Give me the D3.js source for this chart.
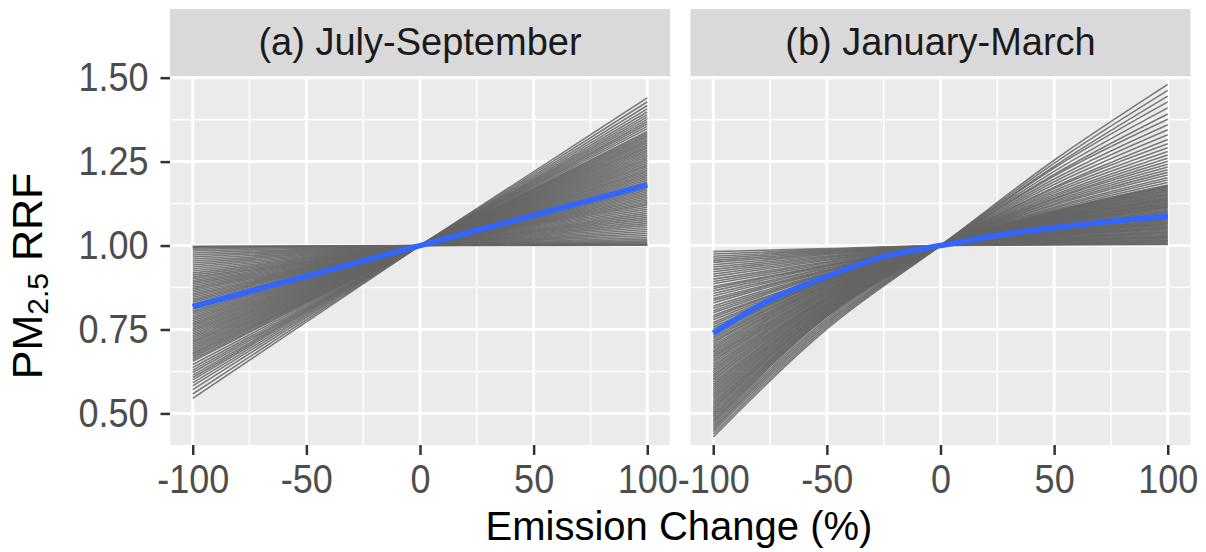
<!DOCTYPE html>
<html>
<head>
<meta charset="utf-8">
<script src="https://cdn.jsdelivr.net/npm/d3@7"></script>
<style>
  body { margin: 0; background: #fff; }
  text { font-family: "Liberation Sans", Arial, sans-serif; }
</style>
</head>
<body>
<svg id="chart" width="1206" height="552"></svg>
<script>
// facet titles and axis ticks
const facetTitles = ["(a) July-September", "(b) January-March"];
const xTicks = [-100, -50, 0, 50, 100];
const xMinor = [-75, -25, 25, 75];
const yTicks = [0.5, 0.75, 1.0, 1.25, 1.5];
const yMinor = [0.625, 0.875, 1.125, 1.375];

// (a) July-September: straight member lines, RRF at -100% and +100% (paired by index)
const julSepAtMinus100 = [
  0.545, 0.558, 0.571, 0.582, 0.591, 0.600, 0.607, 0.614, 0.622, 0.629, 0.637, 0.646,
  0.655, 0.660, 0.666, 0.671, 0.676, 0.681, 0.686, 0.691, 0.696, 0.701,
  0.706, 0.711, 0.716, 0.721, 0.726, 0.731, 0.736, 0.741, 0.746, 0.751,
  0.756, 0.761, 0.766, 0.771, 0.776, 0.781, 0.786, 0.791, 0.796, 0.801,
  0.806, 0.811, 0.816, 0.821, 0.826, 0.831, 0.836, 0.841, 0.846, 0.851,
  0.856, 0.861, 0.866, 0.871, 0.876, 0.881, 0.886, 0.891, 0.896, 0.901,
  0.906, 0.912, 0.918, 0.924, 0.930, 0.936, 0.942, 0.948, 0.954, 0.960,
  0.966, 0.972, 0.978, 0.984, 0.989, 0.993, 0.996, 0.998
];
const julSepAtPlus100 = [
  1.440, 1.428, 1.417, 1.407, 1.398, 1.390, 1.383, 1.376, 1.369, 1.362, 1.355, 1.348,
  1.340, 1.335, 1.330, 1.325, 1.320, 1.315, 1.310, 1.305, 1.300, 1.295,
  1.290, 1.285, 1.280, 1.275, 1.270, 1.265, 1.260, 1.255, 1.250, 1.245,
  1.240, 1.235, 1.230, 1.225, 1.220, 1.215, 1.210, 1.205, 1.200, 1.195,
  1.190, 1.185, 1.180, 1.175, 1.170, 1.165, 1.160, 1.155, 1.150, 1.145,
  1.140, 1.135, 1.130, 1.125, 1.120, 1.114, 1.108, 1.102, 1.096, 1.090,
  1.084, 1.078, 1.072, 1.066, 1.060, 1.054, 1.048, 1.042, 1.036, 1.030,
  1.024, 1.019, 1.014, 1.010, 1.007, 1.004, 1.002, 1.001
];
const julSepMeanX = [-100, -50, 0, 50, 100];
const julSepMean = [0.818, 0.909, 1.0, 1.090, 1.181];

// (b) January-March: curved member lines, RRF at -100, -50, +50, +100 (paired by index)
const janMarAtMinus100 = [
  0.430, 0.438, 0.446, 0.452, 0.458, 0.464,
  0.470, 0.476, 0.481, 0.487, 0.492, 0.498, 0.503, 0.509, 0.515, 0.520,
  0.526, 0.531, 0.537, 0.543, 0.548, 0.554, 0.559, 0.565, 0.571, 0.576,
  0.582, 0.587, 0.593, 0.599, 0.604, 0.610, 0.615, 0.621, 0.627, 0.632,
  0.638, 0.643, 0.649, 0.655, 0.660, 0.666, 0.671, 0.677, 0.683, 0.688,
  0.694, 0.699, 0.705, 0.711, 0.716, 0.722, 0.727, 0.733, 0.739, 0.744,
  0.752, 0.758, 0.765, 0.771, 0.779, 0.786, 0.792, 0.800, 0.806, 0.813,
  0.820, 0.829, 0.836, 0.842, 0.850, 0.857, 0.865, 0.872, 0.878, 0.886,
  0.893, 0.900, 0.908, 0.915, 0.922, 0.929, 0.936, 0.943, 0.950, 0.956,
  0.962, 0.968, 0.975, 0.982
];
const janMarAtMinus50 = [
  0.752, 0.758, 0.764, 0.770, 0.776, 0.782,
  0.788, 0.790, 0.792, 0.795, 0.797, 0.799, 0.801, 0.804, 0.806, 0.808,
  0.810, 0.812, 0.815, 0.817, 0.819, 0.822, 0.824, 0.826, 0.828, 0.830,
  0.833, 0.835, 0.837, 0.840, 0.842, 0.844, 0.846, 0.848, 0.851, 0.853,
  0.855, 0.857, 0.860, 0.862, 0.864, 0.866, 0.868, 0.871, 0.873, 0.875,
  0.878, 0.880, 0.882, 0.884, 0.886, 0.889, 0.891, 0.893, 0.896, 0.898,
  0.896, 0.898, 0.901, 0.902, 0.905, 0.908, 0.908, 0.912, 0.915, 0.916,
  0.919, 0.923, 0.925, 0.927, 0.931, 0.933, 0.937, 0.940, 0.941, 0.945,
  0.949, 0.952, 0.956, 0.959, 0.963, 0.966, 0.969, 0.973, 0.976, 0.979,
  0.982, 0.985, 0.988, 0.991
];
const janMarAtPlus50 = [
  1.254, 1.245, 1.236, 1.231, 1.221, 1.212, 1.207, 1.198, 1.190, 1.182,
  1.174, 1.170, 1.163, 1.157, 1.151, 1.146, 1.141, 1.138, 1.133, 1.129,
  1.124, 1.120, 1.115, 1.111, 1.107,
  1.103, 1.101, 1.100, 1.098, 1.096, 1.095, 1.093, 1.092, 1.090, 1.088,
  1.087, 1.085, 1.084, 1.082, 1.080, 1.079, 1.078, 1.076, 1.074, 1.072,
  1.071, 1.070, 1.068, 1.066, 1.065, 1.063, 1.062, 1.060, 1.058, 1.057,
  1.055, 1.054, 1.052, 1.051, 1.049, 1.047, 1.046, 1.044, 1.043, 1.041,
  1.039, 1.038, 1.036, 1.035, 1.033, 1.031, 1.030, 1.029, 1.027, 1.025,
  1.023, 1.022, 1.021, 1.019, 1.017, 1.015, 1.014, 1.013, 1.011, 1.009,
  1.008, 1.006, 1.005, 1.003, 1.002
];
const janMarAtPlus100 = [
  1.480, 1.462, 1.445, 1.428, 1.410, 1.392, 1.376, 1.360, 1.345, 1.330,
  1.316, 1.303, 1.291, 1.280, 1.270, 1.260, 1.251, 1.242, 1.234, 1.226,
  1.218, 1.210, 1.202, 1.195, 1.188,
  1.180, 1.177, 1.175, 1.172, 1.169, 1.166, 1.164, 1.161, 1.158, 1.155,
  1.152, 1.150, 1.147, 1.144, 1.141, 1.139, 1.136, 1.133, 1.130, 1.127,
  1.125, 1.122, 1.119, 1.116, 1.114, 1.111, 1.108, 1.105, 1.102, 1.100,
  1.097, 1.094, 1.091, 1.089, 1.086, 1.083, 1.080, 1.077, 1.075, 1.072,
  1.069, 1.066, 1.064, 1.061, 1.058, 1.055, 1.052, 1.050, 1.047, 1.044,
  1.041, 1.039, 1.036, 1.033, 1.030, 1.027, 1.025, 1.022, 1.019, 1.016,
  1.014, 1.011, 1.008, 1.005, 1.003
];
const janMarMeanX = [-100, -75, -50, -25, 0, 25, 50, 75, 100];
const janMarMean = [0.739, 0.838, 0.908, 0.967, 1.0, 1.030, 1.053, 1.072, 1.087];

// build member lines for each facet
const julSepLines = d3.range(Math.min(julSepAtMinus100.length, julSepAtPlus100.length))
  .map(i => [[-100, julSepAtMinus100[i]], [0, 1], [100, julSepAtPlus100[i]]]);
const janMarLines = d3.range(janMarAtMinus100.length)
  .map(i => [[-100, janMarAtMinus100[i]], [-50, janMarAtMinus50[i]], [0, 1],
             [50, janMarAtPlus50[i]], [100, janMarAtPlus100[i]]]);

const facets = [
  { title: facetTitles[0], left: 170, lines: julSepLines, mean: julSepMeanX.map((x, i) => [x, julSepMean[i]]) },
  { title: facetTitles[1], left: 690.5, lines: janMarLines, mean: janMarMeanX.map((x, i) => [x, janMarMean[i]]) }
];

let panelW = 500;
let panelTop = 76, panelBottom = 445;
let stripTop = 9;
let squeeze = 0.9; // tick labels in the original are a bit narrow

const svg = d3.select('#chart');

const y = d3.scaleLinear()
  .domain([0.406, 1.505])
  .range([panelBottom, panelTop]);

facets.forEach((f, k) => {
  const x = d3.scaleLinear().domain([-110, 110]).range([0, panelW]);
  const g = svg.append('g').attr('transform', 'translate(' + f.left + ',0)');

  // strip
  g.append('rect')
    .attr('x', 0).attr('y', stripTop)
    .attr('width', panelW).attr('height', panelTop - stripTop)
    .attr('fill', '#d9d9d9');
  g.append('text')
    .attr('x', panelW / 2).attr('y', 55)
    .attr('text-anchor', 'middle')
    .attr('font-size', '38px')
    .attr('fill', '#1a1a1a')
    .text(f.title);

  // panel background + grid
  g.append('rect')
    .attr('x', 0).attr('y', panelTop)
    .attr('width', panelW).attr('height', panelBottom - panelTop)
    .attr('fill', '#ebebeb');

  g.selectAll('.ygrid-minor').data(yMinor).enter().append('line')
    .attr('x1', 0).attr('x2', panelW)
    .attr('y1', d => y(d)).attr('y2', d => y(d))
    .attr('stroke', '#fff').attr('stroke-width', 1.5);
  g.selectAll('.xgrid-minor').data(xMinor).enter().append('line')
    .attr('x1', d => x(d)).attr('x2', d => x(d))
    .attr('y1', panelTop).attr('y2', panelBottom)
    .attr('stroke', '#fff').attr('stroke-width', 1.5);
  g.selectAll('.ygrid').data(yTicks).enter().append('line')
    .attr('x1', 0).attr('x2', panelW)
    .attr('y1', d => y(d)).attr('y2', d => y(d))
    .attr('stroke', '#fff').attr('stroke-width', 3);
  g.selectAll('.xgrid').data(xTicks).enter().append('line')
    .attr('x1', d => x(d)).attr('x2', d => x(d))
    .attr('y1', panelTop).attr('y2', panelBottom)
    .attr('stroke', '#fff').attr('stroke-width', 3);

  // member lines
  const line = d3.line()
    .x(d => x(d[0]))
    .y(d => y(d[1]))
    .curve(d3.curveMonotoneX);

  g.append('g').selectAll('path')
    .data(f.lines).enter().append('path')
    .attr('d', line)
    .attr('fill', 'none')
    .attr('stroke', '#656565')
    .attr('stroke-opacity', 0.85)
    .attr('stroke-width', 1.6);

  // mean line
  g.append('path')
    .attr('d', line(f.mean))
    .attr('fill', 'none')
    .attr('stroke', '#3366ff')
    .attr('stroke-width', 5.5)
    .attr('stroke-linejoin', 'round');

  // x axis
  const xAxis = d3.axisBottom(x)
    .tickValues(xTicks)
    .tickFormat(d3.format('d'))
    .tickSize(10)
    .tickPadding(10);
  const xg = g.append('g')
    .attr('transform', 'translate(0,' + panelBottom + ')')
    .call(xAxis);
  xg.select('.domain').remove();
  xg.selectAll('line').attr('stroke', '#333').attr('stroke-width', 2.5);
  xg.selectAll('text')
    .attr('font-size', '40px').attr('fill', '#4d4d4d')
    .attr('font-family', '"Liberation Sans", Arial, sans-serif')
    .text(d => d < 0 ? '-' + Math.abs(d) : d)
    .each(function () {
      const t = d3.select(this);
      const ty = +t.attr('y');
      t.attr('y', null).attr('transform', 'translate(0,' + ty + ') scale(' + squeeze + ',1)');
    });

  // y axis only on first facet
  if (k === 0) {
    const yAxis = d3.axisLeft(y)
      .tickValues(yTicks)
      .tickFormat(d3.format('.2f'))
      .tickSize(9.5)
      .tickPadding(12);
    const yg = g.append('g').call(yAxis);
    yg.select('.domain').remove();
    yg.selectAll('line').attr('stroke', '#333').attr('stroke-width', 2.5);
    yg.selectAll('text')
      .attr('font-size', '40px').attr('fill', '#4d4d4d')
      .attr('font-family', '"Liberation Sans", Arial, sans-serif')
      .each(function () {
        const t = d3.select(this);
        const tx = +t.attr('x');
        t.attr('x', null).attr('transform', 'translate(' + tx + ',0) scale(' + squeeze + ',1)');
      });
  }
});

// axis titles
svg.append('text')
  .attr('x', 679).attr('y', 540)
  .attr('text-anchor', 'middle')
  .attr('font-size', '40px')
  .attr('fill', '#000')
  .text('Emission Change (%)');

const yTitle = svg.append('text')
  .attr('transform', 'translate(42,276) rotate(-90)')
  .attr('text-anchor', 'middle')
  .attr('font-size', '43px')
  .attr('fill', '#000');
yTitle.append('tspan').text('PM');
yTitle.append('tspan').attr('font-size', '30px').attr('dy', 6).text('2.5');
yTitle.append('tspan').attr('dy', -6).text(' RRF');
</script>
</body>
</html>
